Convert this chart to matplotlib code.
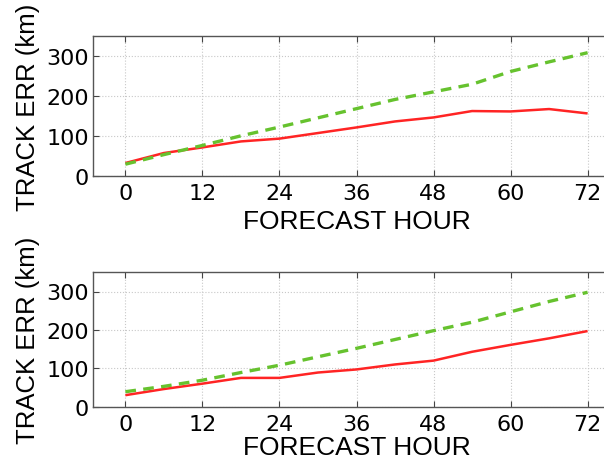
import matplotlib
matplotlib.use("Agg")
import matplotlib.pyplot as plt

plt.rcParams['font.family'] = ['Liberation Sans', 'DejaVu Sans']

hours = [0, 6, 12, 18, 24, 30, 36, 42, 48, 54, 60, 66, 72]
xticks = [0, 12, 24, 36, 48, 60, 72]
yticks = [0, 100, 200, 300]

top_red = [33, 58, 72, 87, 94, 108, 122, 137, 147, 163, 162, 168, 157]
top_green = [30, 54, 77, 101, 123, 146, 169, 192, 211, 230, 262, 286, 309]
bot_red = [30, 46, 60, 75, 75, 89, 97, 110, 120, 143, 161, 178, 197]
bot_green = [39, 53, 69, 89, 108, 130, 152, 175, 198, 220, 247, 274, 298]

xlabel = "FORECAST HOUR"
ylabel = "TRACK ERR (km)"

fig = plt.figure(figsize=(6.04, 4.60), dpi=100)
W, H = 604, 460

def make_ax(top_px, bottom_px):
    left_px, right_px = 93.3, 619.7
    return fig.add_axes([left_px / W, 1 - bottom_px / H,
                         (right_px - left_px) / W, (bottom_px - top_px) / H])

axes = [make_ax(37.3, 177.2), make_ax(273.3, 407.7)]
data = [(top_red, top_green), (bot_red, bot_green)]
xlabelpads = [4, 1]

for ax, (red, green), lp in zip(axes, data, xlabelpads):
    ax.plot(hours, red, color='#ff2424', lw=1.8, solid_capstyle='butt')
    ax.plot(hours, green, color='#66c22e', lw=2.4, ls=(0, (3.2, 2.2)))
    ax.set_xlim(-5, 77)
    ax.set_ylim(0, 350)
    ax.set_xticks(xticks)
    ax.set_yticks(yticks)
    ax.grid(True, ls=':', color='#c8c8c8', lw=0.8)
    ax.tick_params(direction='in', top=True, right=False,
                   length=4, color='#444444')
    ax.tick_params(axis='x', pad=5)
    ax.tick_params(axis='y', pad=3)
    for lab in ax.get_xticklabels() + ax.get_yticklabels():
        lab.set_fontfamily(['DejaVu Sans'])
        lab.set_fontsize(16)
    for s in ax.spines.values():
        s.set_color('#555555')
        s.set_linewidth(1.0)
    ax.set_xlabel(xlabel, fontsize=19, labelpad=lp)
    ax.set_ylabel(ylabel, fontsize=18.5, labelpad=5)

fig.savefig("out.png", dpi=100)
